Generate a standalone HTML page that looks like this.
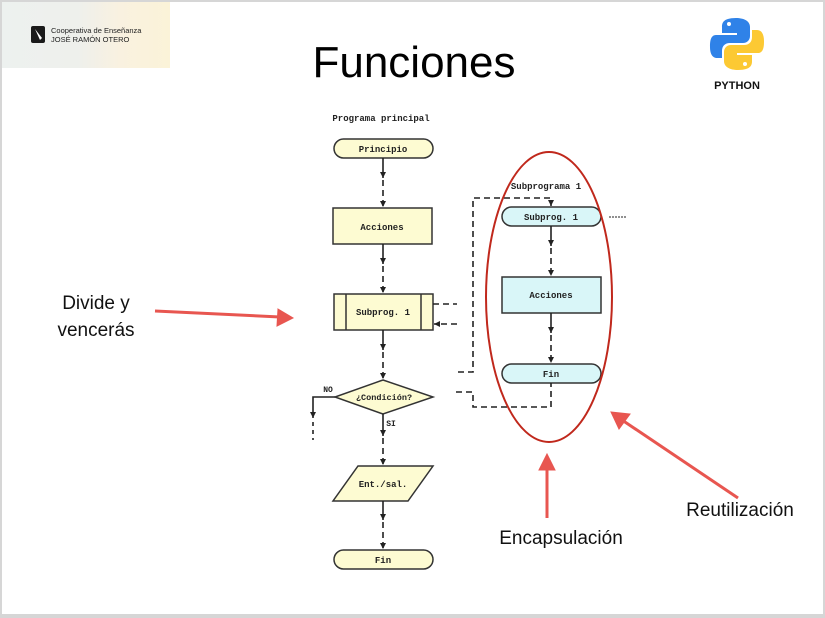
<!DOCTYPE html>
<html><head><meta charset="utf-8"><style>
html,body{margin:0;padding:0;background:#d6d6d6;}
svg{display:block;}
</style></head><body>
<svg width="825" height="618" viewBox="0 0 825 618" xmlns="http://www.w3.org/2000/svg">
<defs>
<linearGradient id="lg" x1="0" y1="0" x2="1" y2="0">
<stop offset="0" stop-color="#edf1ef"/><stop offset="0.45" stop-color="#eef0ec"/><stop offset="0.7" stop-color="#f9f1e0"/><stop offset="1" stop-color="#fbf3d8"/>
</linearGradient>
<marker id="ah" markerWidth="7" markerHeight="7" refX="6" refY="3" orient="auto" markerUnits="userSpaceOnUse"><path d="M0,0 L6,3 L0,6 Z" fill="#222"/></marker>
</defs>
<rect x="2" y="2" width="821" height="612" fill="#fff"/>
<rect x="2" y="2" width="168" height="66" fill="url(#lg)"/>
<rect x="31" y="26" width="14" height="17" rx="2" fill="#1a1a1a"/>
<path d="M35,29 L42,38 L40,40 Z" fill="#fff"/>
<text x="51" y="33" font-family="Liberation Sans, sans-serif" font-size="7.5" fill="#222">Cooperativa de Enseñanza</text>
<text x="51" y="42" font-family="Liberation Sans, sans-serif" font-size="7.5" fill="#222">JOSÉ RAMÓN OTERO</text>
<text x="414" y="77" text-anchor="middle" font-family="Liberation Sans, sans-serif" font-size="44" fill="#000">Funciones</text>
<path d="M736,18 c-14,0 -14,6 -14,9 v6 h15 v2 h-21 c-6,0 -6,8 -6,12 c0,6 2,11 7,11 h5 v-7 c0,-5 3,-8 8,-8 h13 c4,0 7,-3 7,-7 v-9 c0,-6 -6,-9 -14,-9z" fill="#2f82e8"/>
<circle cx="729" cy="24" r="2" fill="#fff"/>
<path d="M738,70 c14,0 14,-6 14,-9 v-6 h-15 v-2 h21 c6,0 6,-8 6,-12 c0,-6 -2,-11 -7,-11 h-5 v7 c0,5 -3,8 -8,8 h-13 c-4,0 -7,3 -7,7 v9 c0,6 6,9 14,9z" fill="#fcc933"/>
<circle cx="745" cy="64" r="2" fill="#fff"/>
<text x="737" y="89" text-anchor="middle" font-family="Liberation Sans, sans-serif" font-size="11" font-weight="bold" fill="#111">PYTHON</text>

<g font-family="Liberation Mono, monospace" font-weight="bold" font-size="9" fill="#222" text-anchor="middle">
<text x="381" y="121">Programa principal</text>
<g stroke="#333" stroke-width="1.5">
<rect x="334" y="139" width="99" height="19" rx="9.5" fill="#fdfbd2"/>
<rect x="333" y="208" width="99" height="36" fill="#fdfbd2"/>
<rect x="334" y="294" width="99" height="36" fill="#fdfbd2"/>
<line x1="346" y1="294" x2="346" y2="330"/><line x1="421" y1="294" x2="421" y2="330"/>
<path d="M383,380 L433,397 L383,414 L335,397 Z" fill="#fdfbd2"/>
<path d="M358,466 L433,466 L408,501 L333,501 Z" fill="#fdfbd2"/>
<rect x="334" y="550" width="99" height="19" rx="9.5" fill="#fdfbd2"/>
<rect x="502" y="207" width="99" height="19" rx="9.5" fill="#d9f6f8"/>
<rect x="502" y="277" width="99" height="36" fill="#d9f6f8"/>
<rect x="502" y="364" width="99" height="19" rx="9.5" fill="#d9f6f8"/>
</g>
<text x="383" y="152">Principio</text>
<text x="382" y="230">Acciones</text>
<text x="383" y="315">Subprog. 1</text>
<text x="384" y="400" font-size="8.5">¿Condición?</text>
<text x="383" y="487">Ent./sal.</text>
<text x="383" y="563">Fin</text>
<text x="546" y="189">Subprograma 1</text>
<text x="551" y="220">Subprog. 1</text>
<text x="551" y="298">Acciones</text>
<text x="551" y="377">Fin</text>
<text x="328" y="392" font-size="8">NO</text>
<text x="391" y="426" font-size="8">SI</text>
</g>
<g stroke="#222" stroke-width="1.6" fill="none">
<path d="M383,158 V178" marker-end="url(#ah)"/><path d="M383,180 V207" stroke-dasharray="6,4" marker-end="url(#ah)"/>
<path d="M383,244 V264" marker-end="url(#ah)"/><path d="M383,266 V293" stroke-dasharray="6,4" marker-end="url(#ah)"/>
<path d="M383,330 V350" marker-end="url(#ah)"/><path d="M383,352 V379" stroke-dasharray="6,4" marker-end="url(#ah)"/>
<path d="M383,414 V436" marker-end="url(#ah)"/><path d="M383,438 V465" stroke-dasharray="6,4" marker-end="url(#ah)"/>
<path d="M383,501 V520" marker-end="url(#ah)"/><path d="M383,522 V549" stroke-dasharray="6,4" marker-end="url(#ah)"/>
<path d="M335,397 H313 V418" marker-end="url(#ah)"/><path d="M313,422 V440" stroke-dasharray="4,4"/>
<path d="M551,226 V246" marker-end="url(#ah)"/><path d="M551,248 V276" stroke-dasharray="6,4" marker-end="url(#ah)"/>
<path d="M551,313 V333" marker-end="url(#ah)"/><path d="M551,335 V363" stroke-dasharray="6,4" marker-end="url(#ah)"/>
<path d="M433,304 H457" stroke-dasharray="6,4"/>
<path d="M457,324 H434" stroke-dasharray="6,4" marker-end="url(#ah)"/>
<path d="M458,372 H473 V198 H551 V206" stroke-dasharray="6,4" marker-end="url(#ah)"/>
<path d="M456,392 H473 V407 H551 V383" stroke-dasharray="6,4"/>
<path d="M609,217 H627" stroke-dasharray="2,1" stroke-width="1"/>
</g>
<ellipse cx="549" cy="297" rx="63" ry="145" fill="none" stroke="#c0281c" stroke-width="2"/>
<g stroke="#e85650" stroke-width="3" fill="#e85650">
<line x1="155" y1="311" x2="280" y2="317"/>
<path d="M278,309 L293,318 L277,326 Z" stroke-width="1"/>
<line x1="547" y1="518" x2="547" y2="468"/>
<path d="M539,470 L547,454 L555,470 Z" stroke-width="1"/>
<line x1="738" y1="498" x2="622" y2="420"/>
<path d="M611,412 L630,414 L619,429 Z" stroke-width="1"/>
</g>
<g font-family="Liberation Sans, sans-serif" font-size="19" fill="#111">
<text x="96" y="309" text-anchor="middle">Divide y</text>
<text x="96" y="336" text-anchor="middle">vencerás</text>
<text x="561" y="544" text-anchor="middle">Encapsulación</text>
<text x="740" y="516" text-anchor="middle">Reutilización</text>
</g>
</svg>
</body></html>
